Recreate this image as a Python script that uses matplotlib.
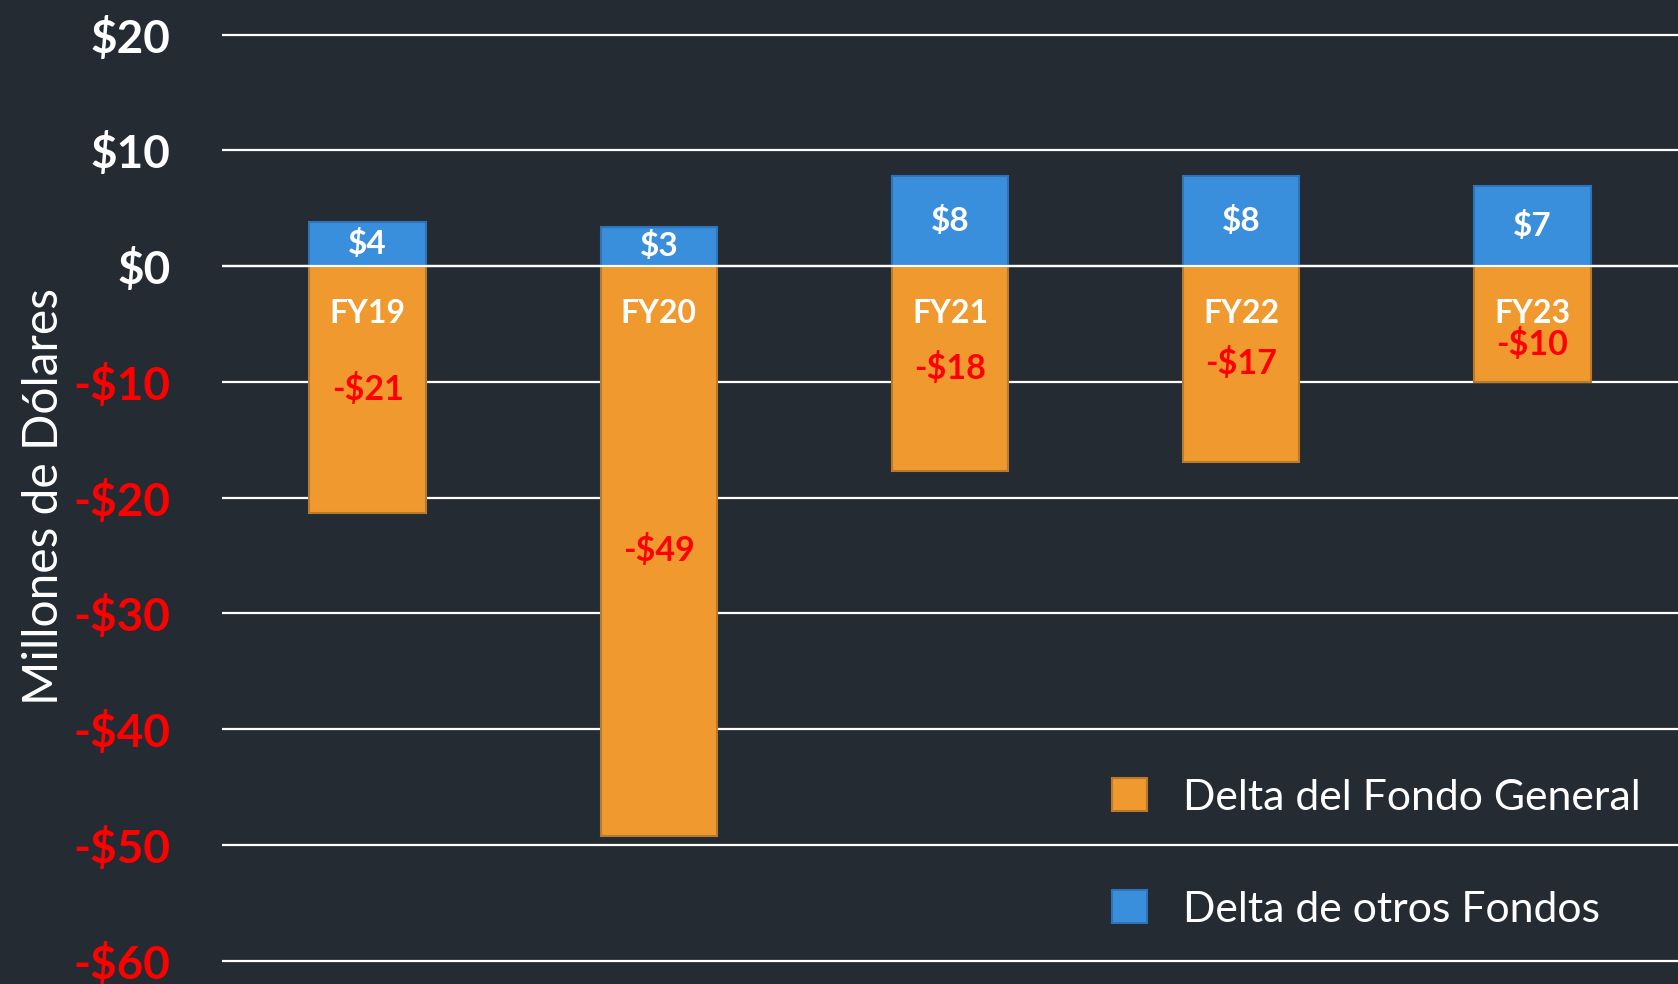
import matplotlib
matplotlib.use("Agg")
import matplotlib.pyplot as plt
from matplotlib.patches import Patch

# values (millions of dollars)
years = ["FY19", "FY20", "FY21", "FY22", "FY23"]
general_fund = [-21.3, -49.2, -17.7, -16.9, -10.0]
other_funds = [3.8, 3.4, 7.8, 7.8, 6.9]
general_labels = ["-$21", "-$49", "-$18", "-$17", "-$10"]
other_labels = ["$4", "$3", "$8", "$8", "$7"]
yticks = [20, 10, 0, -10, -20, -30, -40, -50, -60]

bg = "#242b33"
orange = "#f0992e"
blue = "#3a8fdc"

plt.rcParams["font.family"] = ["Lato", "DejaVu Sans"]

fig = plt.figure(figsize=(16.78, 9.84), dpi=100, facecolor=bg)
ax = fig.add_axes([0.1323, 0.0, 0.8677, 1.0])
ax.set_facecolor(bg)

x = range(len(years))
ax.bar(x, general_fund, width=0.40, color=orange, edgecolor="#b87a2c", linewidth=1.5, zorder=2)
ax.bar(x, other_funds, width=0.40, color=blue, edgecolor="#2e74b8", linewidth=1.5, zorder=2)
ax.axhline(0, color="white", linewidth=1.6, zorder=3)

for i in x:
    ax.text(i, other_funds[i] / 2, other_labels[i], ha="center", va="center",
            color="white", fontsize=24, fontweight="bold", zorder=4)
    ax.text(i, -4.1, years[i], ha="center", va="center",
            color="white", fontsize=23, fontweight="bold", zorder=4)
    ax.text(i, min(general_fund[i] / 2, -6.8), general_labels[i], ha="center", va="center",
            color="#ff0000", fontsize=24.5, fontweight="bold", zorder=4)

ax.set_xlim(-0.5, 4.5)
ax.set_ylim(-62.0, 22.98)
ax.set_xticks([])
ax.set_yticks(yticks)
ax.set_yticklabels(["$%d" % v if v >= 0 else "-$%d" % -v for v in yticks])
for lbl, v in zip(ax.get_yticklabels(), yticks):
    lbl.set_color("white" if v >= 0 else "#ff0000")
    lbl.set_fontsize(33)
    lbl.set_fontweight("bold")
ax.tick_params(axis="y", length=0, pad=37)
ax.grid(axis="y", color="white", linewidth=1.6, zorder=0)
ax.set_axisbelow(True)
for s in ax.spines.values():
    s.set_visible(False)

fig.text(0.026, 0.495, "Millones de Dólares", rotation=90, ha="center", va="center",
         color="white", fontsize=34.5)

handles = [Patch(facecolor=orange, edgecolor="#b87a2c", linewidth=1.5, label="Delta del Fondo General"),
           Patch(facecolor=blue, edgecolor="#2e74b8", linewidth=1.5, label="Delta de otros Fondos")]
leg = fig.legend(handles=handles, loc="upper left", bbox_to_anchor=(0.640, 0.248), frameon=False,
                 fontsize=30.8, labelcolor="white", handlelength=0.8, handleheight=0.8,
                 handletextpad=0.84, labelspacing=1.72)

fig.savefig("out.png", dpi=100, facecolor=bg)
